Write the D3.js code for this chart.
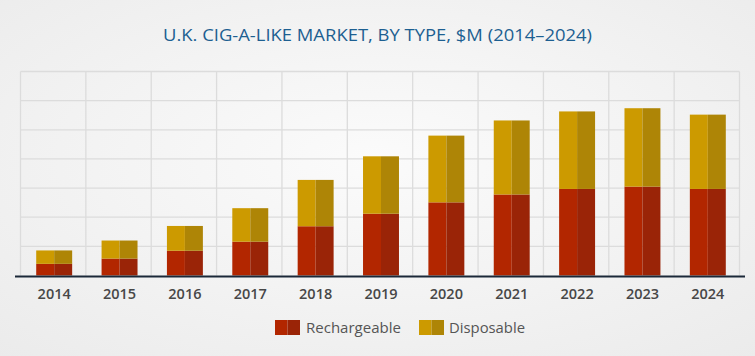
<!DOCTYPE html>
<html>
<head>
<meta charset="utf-8">
<script src="https://cdn.jsdelivr.net/npm/d3@7/dist/d3.min.js"></script>
<style>
  html, body { margin: 0; padding: 0; }
  body { width: 755px; height: 356px; overflow: hidden; }
</style>
</head>
<body>
<svg id="chart" width="755" height="356"></svg>
<script>
const categories = ["2014","2015","2016","2017","2018","2019","2020","2021","2022","2023","2024"];
const rechargeable = [4.0, 5.8, 8.5, 11.6, 16.9, 21.2, 25.1, 27.8, 29.7, 30.5, 29.7];
const disposable   = [4.6, 6.2, 8.5, 11.5, 15.9, 19.7, 22.9, 25.4, 26.6, 26.9, 25.5];
const yTicks = [0, 10, 20, 30, 40, 50, 60, 70];
const seriesNames = ["Rechargeable", "Disposable"];
const title = "U.K. CIG-A-LIKE MARKET, BY TYPE, $M (2014\u20132024)";

const colors = {
  Rechargeable: ["#b22600", "#9a2407"],
  Disposable: ["#cc9a00", "#ae8506"]
};

const svg = d3.select("#chart");
const W = 755, H = 356;
const m = { left: 20.5, right: 15.5, top: 71.5, bottom: 80.5 };

const defs = svg.append("defs");
const rg = defs.append("radialGradient").attr("id", "bg").attr("cx", "50%").attr("cy", "45%").attr("r", "75%");
rg.append("stop").attr("offset", "0%").attr("stop-color", "#fbfbfb");
rg.append("stop").attr("offset", "100%").attr("stop-color", "#ebebeb");
svg.append("rect").attr("width", W).attr("height", H).attr("fill", "url(#bg)");

const x = d3.scaleBand().domain(categories).range([m.left, W - m.right]).paddingInner(0.45).paddingOuter(0.225);
const xGrid = d3.scaleBand().domain(categories).range([m.left, W - m.right]);
const y = d3.scaleLinear().domain([0, 70]).range([H - m.bottom, m.top]);

const g = svg.append("g");
g.selectAll("line.h").data(yTicks.slice(1)).join("line")
  .attr("x1", m.left).attr("x2", W - m.right)
  .attr("y1", d => y(d)).attr("y2", d => y(d))
  .attr("stroke", "#dcdcdc").attr("stroke-width", 1.3);
const vx = categories.map(c => xGrid(c)).concat([W - m.right]);
g.selectAll("line.v").data(vx).join("line")
  .attr("x1", d => d).attr("x2", d => d)
  .attr("y1", m.top).attr("y2", y(0))
  .attr("stroke", "#dcdcdc").attr("stroke-width", 1.3);

const data = categories.map((c, i) => ({ cat: c, Rechargeable: rechargeable[i], Disposable: disposable[i] }));
const stack = d3.stack().keys(seriesNames)(data);

const bw = x.bandwidth();
stack.forEach(layer => {
  const key = layer.key;
  const grp = svg.append("g");
  layer.forEach(d => {
    const x0 = x(d.data.cat) + 1;
    const y0 = y(d[1]);
    const h = y(d[0]) - y(d[1]);
    grp.append("rect").attr("x", x0).attr("y", y0).attr("width", bw / 2).attr("height", h).attr("fill", colors[key][0]);
    grp.append("rect").attr("x", x0 + bw / 2).attr("y", y0).attr("width", bw / 2).attr("height", h).attr("fill", colors[key][1]);
  });
});

svg.append("line").attr("x1", 15).attr("x2", 745).attr("y1", y(0) + 1).attr("y2", y(0) + 1)
  .attr("stroke", "#1b2838").attr("stroke-width", 2);

const xAxis = d3.axisBottom(x).tickSize(0).tickPadding(0);
const ax = svg.append("g").attr("transform", `translate(1, ${y(0) + 18})`).call(xAxis);
ax.select(".domain").remove();
ax.selectAll("text")
  .attr("dy", "0.35em")
  .attr("fill", "#474747")
  .style("font-family", "'Open Sans', sans-serif")
  .style("font-weight", "600")
  .style("font-size", "14.5px");

svg.append("text").attr("x", 377.5).attr("y", 40.5).attr("text-anchor", "middle")
  .attr("fill", "#1d5f91")
  .style("font-family", "'Open Sans', sans-serif")
  .style("font-size", "17px")
  .attr("textLength", 429).attr("lengthAdjust", "spacingAndGlyphs")
  .text(title);

const legendItems = [
  { name: "Rechargeable", sx: 275, tx: 306, len: 95 },
  { name: "Disposable", sx: 419, tx: 449, len: 76 }
];
const lg = svg.append("g");
legendItems.forEach(it => {
  lg.append("rect").attr("x", it.sx).attr("y", 320).attr("width", 12.5).attr("height", 15).attr("fill", colors[it.name][0]);
  lg.append("rect").attr("x", it.sx + 12.5).attr("y", 320).attr("width", 12.5).attr("height", 15).attr("fill", colors[it.name][1]);
  lg.append("text").attr("x", it.tx).attr("y", 332.5)
    .attr("fill", "#555")
    .style("font-family", "'Open Sans', sans-serif")
    .style("font-size", "14.5px")
    .attr("textLength", it.len).attr("lengthAdjust", "spacingAndGlyphs")
    .text(it.name);
});
</script>
</body>
</html>
